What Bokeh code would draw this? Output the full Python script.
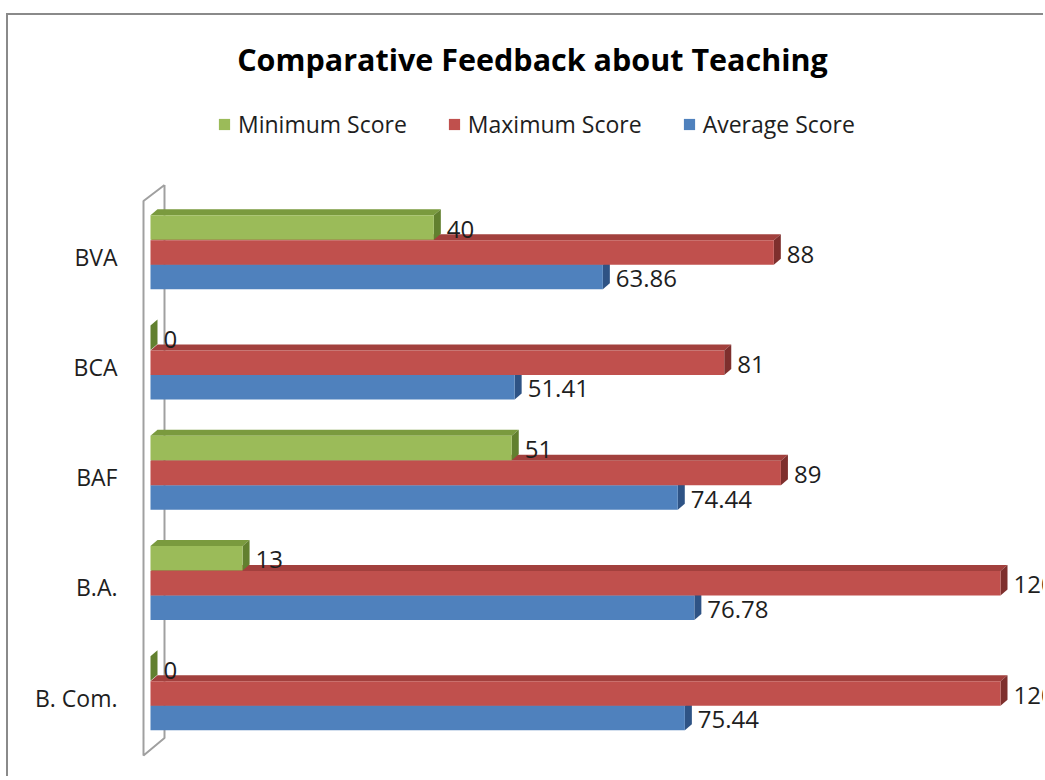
from bokeh.plotting import figure
from bokeh.models import Range1d, FixedTicker, Legend, LegendItem, Label
from bokeh.embed import file_html
from bokeh.resources import INLINE
from bokeh.core.properties import value

# ---------------- data ----------------
categories = ["B. Com.", "B.A.", "BAF", "BCA", "BVA"]          # bottom -> top
min_score = [0, 13, 51, 0, 40]
max_score = [120, 120, 89, 81, 88]
avg_score = [75.44, 76.78, 74.44, 51.41, 63.86]
series_names = ["Minimum Score", "Maximum Score", "Average Score"]
series_values = [min_score, max_score, avg_score]

# ---------------- style / layout ----------------
FONT = "Open Sans"
TEXT_COLOR = "#1e1e1e"
front_colors = ["#9BBB59", "#C0504D", "#4F81BD"]
top_colors = ["#7A9A3E", "#A2403D", "#3B689E"]
side_colors = ["#62802F", "#7E2F2D", "#2E5385"]
# vertical offset (px, upward) of each series' bar centre from its category tick
series_offset_px = [29.0, 4.0, -20.5]
bar_half_px = 12.3
depth_dx_px, depth_dy_px = 7.0, 6.0

W, H = 1037, 763
LEFT = 122
PX_PER_X = 850.0 / 120.0        # pixels per score unit
PX_PER_CAT = 110.25             # pixels between categories
ZERO_X_PX = 20.0                # distance from frame left to value 0
CAT0_FROM_BOTTOM = 81.0         # distance from frame bottom to first category

frame_w = W - LEFT
x_start = -ZERO_X_PX / PX_PER_X
x_end = (frame_w - ZERO_X_PX) / PX_PER_X
y_start = -CAT0_FROM_BOTTOM / PX_PER_CAT
y_end = (H - CAT0_FROM_BOTTOM) / PX_PER_CAT

p = figure(width=W, height=H, output_backend="svg", toolbar_location=None,
           x_range=Range1d(x_start, x_end), y_range=Range1d(y_start, y_end),
           min_border_left=LEFT, min_border_right=0, min_border_top=0,
           min_border_bottom=0, title=None)
p.styles = {"border-left": "2px solid #8a8a8a", "border-top": "2px solid #8a8a8a",
            "margin-top": "13px", "margin-left": "6px"}
p.outline_line_color = None
p.background_fill_color = "white"
p.border_fill_color = "white"
p.xgrid.visible = False
p.ygrid.visible = False
p.xaxis.visible = False

yax = p.yaxis[0]
yax.ticker = FixedTicker(ticks=list(range(len(categories))))
yax.major_label_overrides = {i: c for i, c in enumerate(categories)}
yax.axis_line_color = None
yax.major_tick_line_color = None
yax.minor_tick_line_color = None
yax.major_label_standoff = 7
yax.major_label_text_font = FONT
yax.major_label_text_font_size = "23px"
yax.major_label_text_color = TEXT_COLOR

# ---------------- 3-D wall at the category axis ----------------
dx = depth_dx_px / PX_PER_X
dy = depth_dy_px / PX_PER_CAT
wall_front_x = -7.0 / PX_PER_X
wall_back_x = 14.0 / PX_PER_X
wall_bot = -58.0 / PX_PER_CAT
wall_top = len(categories) - 1 + 0.53 - 3.0 / PX_PER_CAT
wall_slope = 16.0 / PX_PER_CAT
p.line([wall_back_x, wall_front_x, wall_front_x, wall_back_x, wall_back_x],
       [wall_top + wall_slope, wall_top, wall_bot, wall_bot + wall_slope * 1.1,
        wall_top + wall_slope],
       line_color="#a0a0a0", line_width=2)

# ---------------- bars ----------------
hh = bar_half_px / PX_PER_CAT
front_renderers = {}
for s in [2, 1, 0]:  # draw bottom series first
    vals = series_values[s]
    off = series_offset_px[s] / PX_PER_CAT
    bottoms = [i + off - hh for i in range(len(categories))]
    tops = [i + off + hh for i in range(len(categories))]
    top_xs, top_ys, side_xs, side_ys = [], [], [], []
    for v, b, t in zip(vals, bottoms, tops):
        top_xs.append([0, v, v + dx, dx])
        top_ys.append([t, t, t + dy, t + dy])
        side_xs.append([v, v, v + dx, v + dx])
        side_ys.append([b, t, t + dy, b + dy])
    p.patches(top_xs, top_ys, fill_color=top_colors[s], line_color=None)
    p.patches(side_xs, side_ys, fill_color=side_colors[s], line_color=None)
    r = p.quad(left=[0] * len(vals), right=vals, bottom=bottoms, top=tops,
               fill_color=front_colors[s], line_color=None)
    front_renderers[s] = r
    centers = [i + off for i in range(len(categories))]
    p.text(x=vals, y=centers, text=[f"{v:g}" for v in vals],
           x_offset=depth_dx_px + 6, y_offset=1.5,
           text_font=value(FONT), text_font_size="24px", text_color=TEXT_COLOR,
           text_baseline="middle", text_align="left")

# ---------------- legend ----------------
legend = Legend(items=[LegendItem(label=series_names[s], renderers=[front_renderers[s]])
                       for s in range(3)],
                orientation="horizontal", location=(87, 638),
                glyph_width=14, glyph_height=14, label_standoff=7, spacing=40,
                padding=0, margin=0, border_line_color=None,
                background_fill_alpha=0, label_text_font=FONT,
                label_text_font_size="23px", label_text_color=TEXT_COLOR,
                label_height=28)
p.add_layout(legend, "center")

# ---------------- title ----------------
p.add_layout(Label(x=402, y=720, x_units="screen", y_units="screen",
                   text="Comparative Feedback about Teaching", text_font=FONT,
                   text_font_style="bold", text_font_size="30.5px",
                   text_color="#000000", text_align="center",
                   text_baseline="middle"))

open("out.html", "w").write(file_html(p, INLINE))
